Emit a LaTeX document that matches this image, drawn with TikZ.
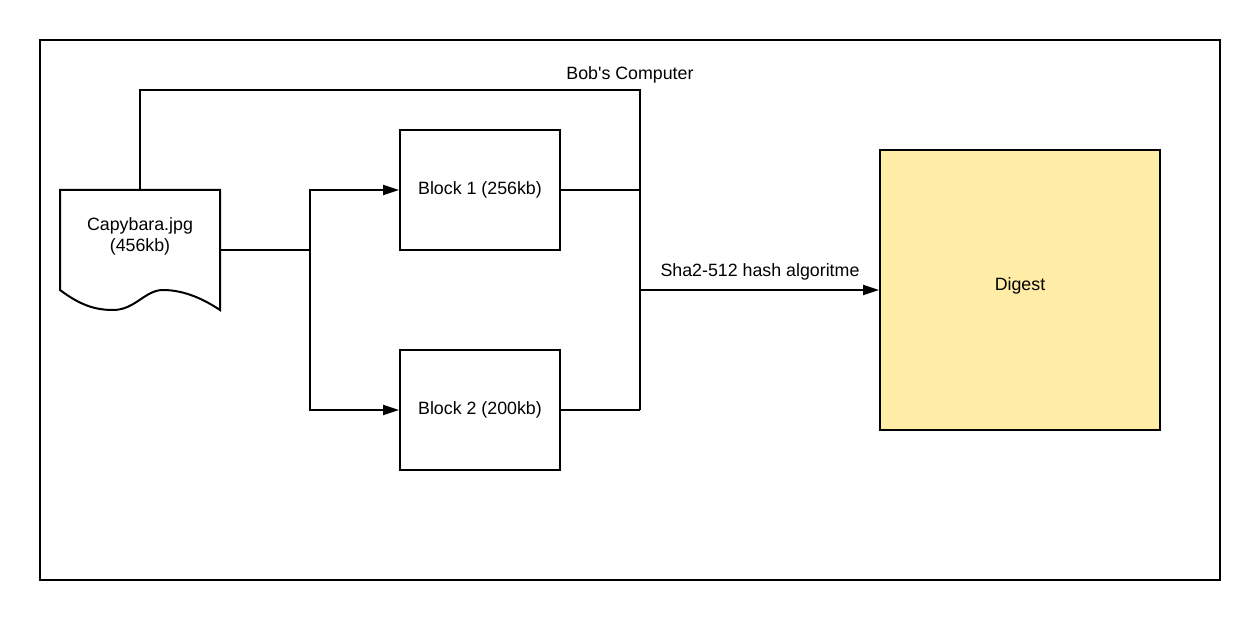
\documentclass[tikz,border=0pt]{standalone}
\usepackage{fontspec}
\setmainfont{Liberation Sans}
\usetikzlibrary{arrows.meta}
\definecolor{digestfill}{HTML}{FFECA6}
\begin{document}
\begin{tikzpicture}[x=1pt,y=-1pt,
  line/.style={line width=2pt,draw=black},
  arr/.style={line,-{Triangle[length=16pt,width=10pt]}},
  boxnode/.style={line,minimum width=160pt,minimum height=120pt,inner sep=0pt,font=\fontsize{17.8pt}{21pt}\selectfont},
  lbl/.style={font=\fontsize{17.8pt}{21pt}\selectfont,inner sep=0pt}]
\useasboundingbox (0,0) rectangle (1260,620);
% outer frame
\node[line,minimum width=1180pt,minimum height=540pt,inner sep=0pt] (frame) at (630,310) {};
% document shape
\draw[line,line join=miter] (60,190) -- (220,190) -- (220,310)
  .. controls (205,300) and (185,290) .. (163,290)
  .. controls (145,290) and (135,310) .. (113,310)
  .. controls (95,310) and (80,305) .. (60,290) -- cycle;
\coordinate (doctop) at (140,190);
\coordinate (docright) at (220,250);
\node[lbl,align=center] (doctext) at (140,236) {Capybara.jpg\\[0pt](456kb)};
% blocks
\node[boxnode] (b1) at (480,190) {Block 1 (256kb)};
\node[boxnode] (b2) at (480,410) {Block 2 (200kb)};
\node[line,fill=digestfill,minimum width=280pt,minimum height=280pt,inner sep=0pt] (dg) at (1020,290) {};
\node[lbl] (dgt) at (1020,286) {Digest};
% junctions
\coordinate (split) at (310,250);
\coordinate (bustop) at (640,90);
\coordinate (busmid) at (640,290);
\coordinate (busbot) at (640,410);
% connectors
\draw[line] (docright) -- (split);
\draw[arr] (split) |- (b1.west);
\draw[arr] (split) |- (b2.west);
\draw[line] (doctop) -- (140,90) -- (bustop) -- (busbot);
\draw[line] (b1.east) -- (640,190);
\draw[line] (b2.east) -- (busbot);
\draw[arr] (busmid) -- (dg.west);
\node[lbl] (bob) at (630,75) {Bob\textquotesingle s Computer};
\node[lbl] (sha) at (760,272) {Sha2-512 hash algoritme};
\end{tikzpicture}
\end{document}
